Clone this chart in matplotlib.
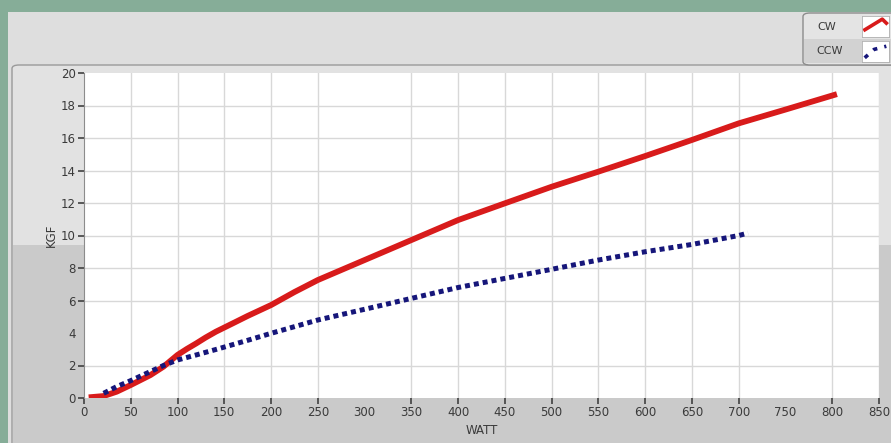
#!/usr/bin/env python3
"""Thrust (KGF) versus power (WATT) for CW and CCW rotation."""

import matplotlib

matplotlib.use("Agg")
import matplotlib.pyplot as plt
from matplotlib.patches import FancyBboxPatch, Rectangle

W, H = 891, 443

cw_watt = [5, 21, 35, 50, 71, 85, 100, 110, 120, 130, 141, 160, 175, 200,
           225, 250, 300, 350, 400, 450, 500, 550, 600, 650, 700, 750, 805]
cw_kgf = [0.04, 0.12, 0.39, 0.8, 1.41, 1.93, 2.65, 3.02, 3.36, 3.72, 4.08,
          4.62, 5.05, 5.72, 6.52, 7.26, 8.49, 9.72, 10.95, 11.98, 13.0,
          13.93, 14.89, 15.88, 16.9, 17.75, 18.7]

ccw_watt = [21, 35, 50, 70, 85, 100, 120, 145, 175, 200, 250, 300, 350, 400,
            450, 500, 550, 600, 650, 700, 710]
ccw_kgf = [0.29, 0.7, 1.07, 1.6, 2.0, 2.34, 2.65, 3.05, 3.55, 3.98, 4.8,
           5.46, 6.13, 6.8, 7.36, 7.92, 8.49, 9.0, 9.45, 10.0, 10.15]

x_ticks = list(range(0, 851, 50))
y_ticks = list(range(0, 21, 2))
hidden_x = [300, 750]   # no grid line / tick mark on these in the screenshot
hidden_y = [4]

GREEN = "#86ad98"
PANEL_LIGHT = "#dedede"
PANEL_DARK = "#cacaca"
RED = "#d81b1b"
NAVY = "#16167a"
TEXT = "#3a3a3a"


def px_rect(x0, y0, x1, y1):
    """Pixel box (top-left origin) -> figure fraction (x, y, w, h)."""
    return x0 / W, 1 - y1 / H, (x1 - x0) / W, (y1 - y0) / H


fig = plt.figure(figsize=(W / 100, H / 100), dpi=100, facecolor=GREEN)

# window panel
x, y, w, h = px_rect(8, 12, W + 2, H + 2)
fig.patches.append(Rectangle((x, y), w, h, transform=fig.transFigure,
                             facecolor=PANEL_LIGHT, edgecolor="none", zorder=0))
x, y, w, h = px_rect(12, 65, W + 10, H + 10)
fig.patches.append(FancyBboxPatch((x, y), w, h, transform=fig.transFigure,
                                  boxstyle="round,pad=0,rounding_size=0.008",
                                  facecolor="#e2e2e2", edgecolor="#9a9a9a",
                                  linewidth=1.0, zorder=0))
x, y, w, h = px_rect(13, 245, W + 2, H + 2)
fig.patches.append(Rectangle((x, y), w, h, transform=fig.transFigure,
                             facecolor=PANEL_DARK, edgecolor="none", zorder=0))

ax = fig.add_axes(px_rect(84, 73, 879, 398))
ax.set_facecolor("white")
ax.set_zorder(2)

ax.plot(cw_watt, cw_kgf, color=RED, linewidth=4.2, solid_capstyle="butt",
        zorder=4)
ax.plot(ccw_watt, ccw_kgf, color=NAVY, linewidth=3.6, linestyle=(0, (1, 0.8)),
        dash_capstyle="butt", zorder=5)

ax.set_xlim(0, 850)
ax.set_ylim(0, 20)

x_major = [v for v in x_ticks if v not in hidden_x]
y_major = [v for v in y_ticks if v not in hidden_y]
ax.set_xticks(x_major)
ax.set_xticks(hidden_x, labels=[str(v) for v in hidden_x], minor=True)
ax.set_yticks(y_major)
ax.set_yticks(hidden_y, labels=[str(v) for v in hidden_y], minor=True)
for v in x_major[1:-1]:
    ax.axvline(v, color="#d8d8d8", linewidth=1.0, zorder=1)
for v in y_major[1:-1]:
    ax.axhline(v, color="#d8d8d8", linewidth=1.0, zorder=1)
ax.axvline(850, color="#d8d8d8", linewidth=1.0, zorder=1)

for side in ("top", "right", "bottom"):
    ax.spines[side].set_visible(False)
ax.spines["left"].set_color("#8c8c8c")
ax.tick_params(axis="both", which="major", direction="out", length=4,
               width=1.2, color="#404040", labelsize=8.5, labelcolor=TEXT,
               pad=2)
ax.tick_params(axis="both", which="minor", length=0, labelsize=8.5,
               labelcolor=TEXT, pad=6)
ax.set_xlabel("WATT", fontsize=8.5, color=TEXT, labelpad=3)
ax.set_ylabel("KGF", fontsize=8.5, color=TEXT, labelpad=2)

# legend box
x, y, w, h = px_rect(803, 13, W + 8, 65)
fig.patches.append(FancyBboxPatch((x, y), w, h, transform=fig.transFigure,
                                  boxstyle="round,pad=0,rounding_size=0.008",
                                  facecolor="#e4e4e4", edgecolor="#8c8c8c",
                                  linewidth=1.0, zorder=3))
x, y, w, h = px_rect(804, 39, W + 2, 63)
fig.patches.append(Rectangle((x, y), w, h, transform=fig.transFigure,
                             facecolor="#d2d2d2", edgecolor="none", zorder=3))
fig.text(817 / W, 1 - 27 / H, "CW", fontsize=8, color=TEXT, va="center",
         ha="left", zorder=4)
fig.text(816 / W, 1 - 51 / H, "CCW", fontsize=8, color=TEXT, va="center",
         ha="left", zorder=4)

sw1 = fig.add_axes(px_rect(862, 16, 889, 37))
sw2 = fig.add_axes(px_rect(862, 41, 889, 62))
for sw in (sw1, sw2):
    sw.set_zorder(6)
    sw.set_facecolor("white")
    sw.set_xlim(0, 1)
    sw.set_ylim(0, 1)
    sw.set_xticks([])
    sw.set_yticks([])
    for sp in sw.spines.values():
        sp.set_color("#b0b0b0")
        sp.set_linewidth(0.6)
sw1.plot([0.05, 0.75, 0.95], [0.3, 0.85, 0.6], color=RED, linewidth=2.6,
         solid_capstyle="butt")
sw2.plot([0.1, 0.45, 0.9], [0.2, 0.6, 0.75], color=NAVY, linewidth=2.6,
         linestyle=(0, (1.2, 2.0)), dash_capstyle="butt")

fig.savefig("out.png", dpi=100, facecolor=GREEN)
